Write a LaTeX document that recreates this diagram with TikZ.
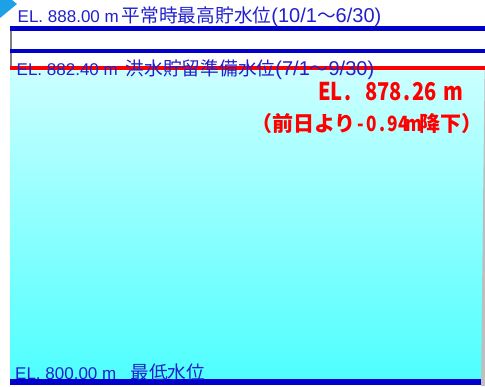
\documentclass[tikz,border=0pt]{standalone}
\usepackage{fontspec}
\setmainfont{Liberation Sans}
\newfontfamily\jp{Noto Sans CJK JP}
\newfontfamily\jpc{Noto Sans CJK JP}[FakeStretch=0.82]
\definecolor{lblue}{RGB}{32,32,204}
\definecolor{lineblue}{RGB}{0,0,204}
\definecolor{cyantop}{RGB}{204,255,255}
\definecolor{cyanbot}{RGB}{77,255,255}
\definecolor{tri}{RGB}{30,160,230}
\definecolor{edgegray}{RGB}{190,190,190}
\newcommand\J[1]{{\jp\fontsize{18.7}{18.7}\selectfont #1}}
\newcommand\Pren[1]{{\fontsize{20}{20}\selectfont #1}}
\newcommand\hwA[1]{\makebox[11.7pt][c]{\jpc\bfseries #1}}
\newcommand\hwB[1]{\makebox[10.6pt][c]{\jpc\bfseries #1}}
\begin{document}
\begin{tikzpicture}[x=1pt,y=-1pt,
  lbl/.style={anchor=base west,inner sep=0pt,text=lblue,font=\fontsize{17}{17}\selectfont},
  redlbl/.style={anchor=base west,inner sep=0pt,text=red},
  levelline/.style={line width=#1}]
\useasboundingbox (0,0) rectangle (485,386);
\shade[top color=cyantop,bottom color=cyanbot] (10,70) rectangle (485,382);
\fill[tri] (0,0) -- (12,0) -- (17,4) -- (0,18) -- cycle;
\draw[gray,line width=1.5] (10.75,31) -- (10.75,66);
\draw[lineblue,levelline=5] (10,28.5) -- (485,28.5);
\draw[lineblue,levelline=4.6] (10,51) -- (485,51);
\draw[red,levelline=4] (10,68) -- (485,68);
\draw[lineblue,levelline=6] (10,382) -- (481,382);
\fill[edgegray] (484.6,70) -- (485,70) -- (485,386) -- (481,386) -- cycle;
\node[lbl] (t1) at (17.5,22) {EL. 888.00 m\kern3pt\J{平常時最高貯水位}\Pren{(10/1\J{～}6/30)}};
\node[lbl] (t2) at (16.5,75.5) {EL. 882.40 m\hspace{8pt}\J{洪水貯留準備水位}\Pren{(7/1\J{～}9/30)}};
\node[lbl] (t3) at (15,379) {EL. 800.00 m{\jp\fontsize{14}{14}\selectfont 　}\J{最低水位}};
\node[redlbl,font=\jp\bfseries\fontsize{24.5}{24.5}\selectfont] (r1) at (319,100)
  {\hwA{E}\hwA{L}\hwA{.}\hwA{}\hwA{8}\hwA{7}\hwA{8}\hwA{.}\hwA{2}\hwA{6}\hwA{}\hwA{m}};
\node[redlbl,font=\jp\bfseries\fontsize{21}{21}\selectfont] (r2) at (251,131)
  {（前日より\hwB{-}\hwB{0}\hwB{.}\hwB{9}\hwB{4}\hwB{m}降下）};
\end{tikzpicture}
\end{document}
